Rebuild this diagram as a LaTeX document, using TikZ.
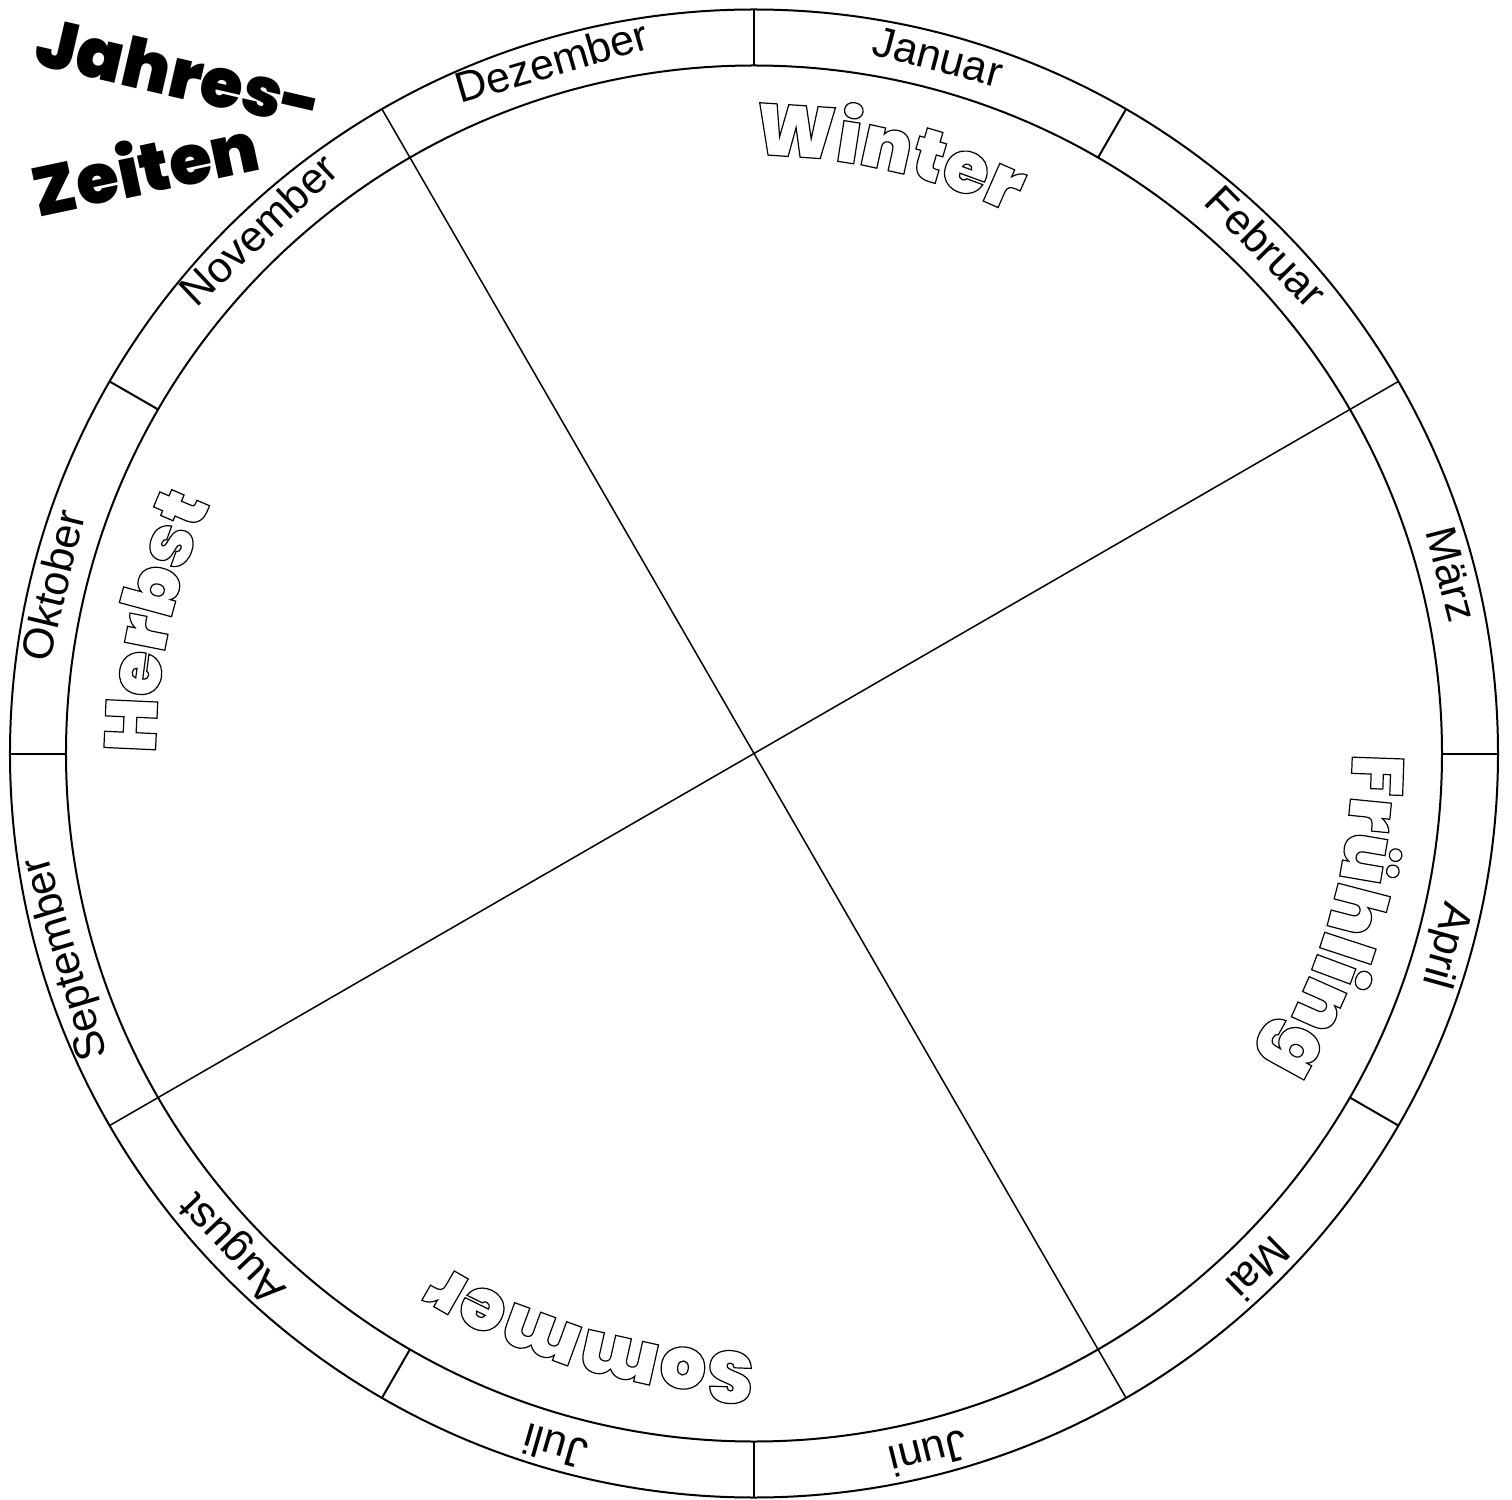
\documentclass[tikz,border=0pt]{standalone}
\usepackage{fontspec}
\setmainfont{Liberation Sans}
\IfFontExistsTF{Poppins Black}{\newfontfamily\heavy{Poppins Black}}{\newfontfamily\heavy{Liberation Sans Bold}}
\usetikzlibrary{decorations.text}
\newcommand\outlon{\special{pdf:literal direct 1 Tr 1.2 w}}
\tikzset{
  ring/.style={line width=2pt},
  quad/.style={line width=1.5pt},
  month/.style={font=\fontsize{43}{43}\selectfont, anchor=base, inner sep=0pt},
  titletext/.style={font=\heavy\fontsize{69}{69}\selectfont, inner sep=0pt},
  season/.style={decorate, decoration={text along path, text align=left,
     text={|\heavy\fontsize{73}{73}\selectfont\outlon|#1}}}
}
\begin{document}
\begin{tikzpicture}[x=1pt,y=1pt]
\useasboundingbox (-754,-745.5) rectangle (758,753.5);
\coordinate (c) at (0,0);
\draw[ring] (c) circle[radius=744pt];
\draw[ring] (c) circle[radius=688pt];
\foreach \a in {0,60,90,150,180,240,270,330}{
  \draw[ring] (\a:688) -- (\a:744);
}
\coordinate (q1) at (120:744);
\coordinate (q2) at (300:744);
\coordinate (q3) at (30:744);
\coordinate (q4) at (210:744);
\draw[quad] (q1) -- (c) -- (q2);
\draw[quad] (q3) -- (c) -- (q4);
\foreach \a/\m/\n in {75.2/Januar/jan,44.7/Februar/feb,14.4/März/mar,-15.5/April/apr,-45.6/Mai/mai,-76/Juni/jun,-106/Juli/jul,-136.5/August/aug,-163.4/September/sep,166.5/Oktober/okt,133.4/November/nov,106.3/Dezember/dez}{
  \node[month, rotate=\a-90] (\n) at (\a:706) {\m};
}
\node[titletext, rotate=-13] (t1) at (-574,681) {Jahres-};
\node[titletext, rotate=12] (t2) at (-609,588) {Zeiten};
\path[season=Winter] (90:598) arc[start angle=90, end angle=40, radius=598pt];
\path[season=Frühling] (0:598) arc[start angle=0, end angle=-50, radius=598pt];
\path[season=Sommer] (-90:598) arc[start angle=-90, end angle=-140, radius=598pt];
\path[season=Herbst] (180:598) arc[start angle=180, end angle=130, radius=598pt];
\end{tikzpicture}
\end{document}
